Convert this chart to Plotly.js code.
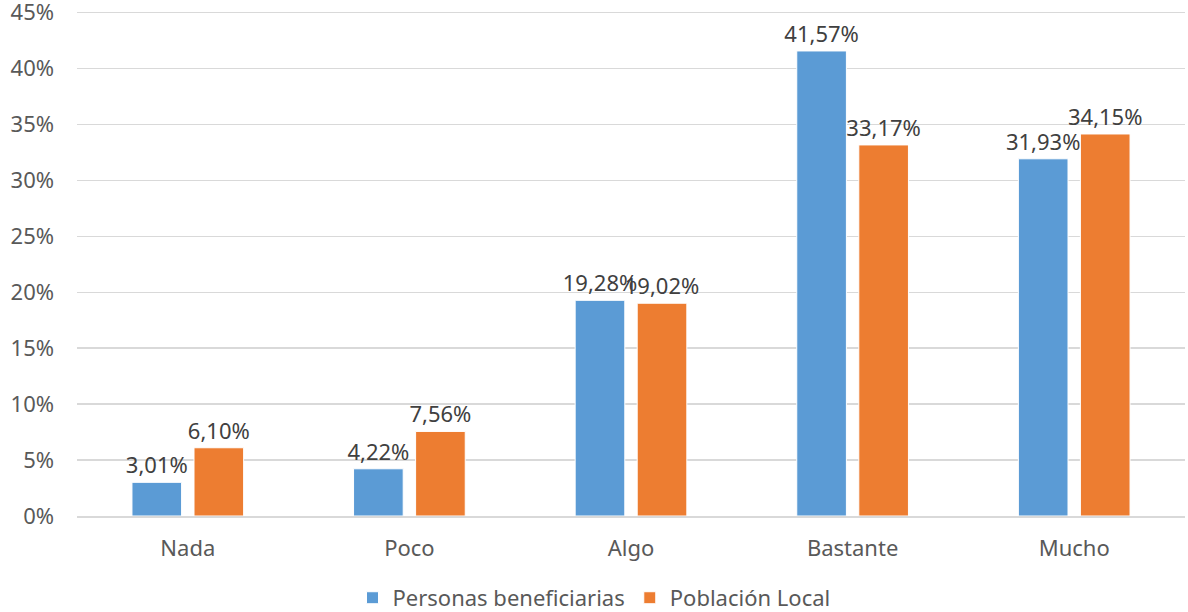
<!DOCTYPE html>
<html><head><meta charset="utf-8">
<script src="https://cdn.plot.ly/plotly-3.0.1.min.js"></script>
<style>html,body{margin:0;padding:0;background:#fff}#chart{width:1188px;height:612px}</style>
</head><body><div id="chart"></div>
<script>
const categories = ["Nada", "Poco", "Algo", "Bastante", "Mucho"];
const beneficiarias = [3.01, 4.22, 19.28, 41.57, 31.93];
const poblacionLocal = [6.10, 7.56, 19.02, 33.17, 34.15];
const seriesNames = ["Personas beneficiarias", "Población Local"];
const yTickVals = [0,5,10,15,20,25,30,35,40,45];
const yTickText = yTickVals.map(v => v + "%");

const fmt = v => v.toFixed(2).replace(".", ",") + "%";
const font = "'Noto Sans', 'Open Sans', sans-serif";
const fs = 22;

const traces = [
  {type:"bar", name:seriesNames[0], x:categories, y:beneficiarias,
   marker:{color:"#5B9BD5", line:{color:"#ffffff", width:1}},
   text:beneficiarias.map(fmt), textposition:"outside", cliponaxis:false, constraintext:"none",
   textfont:{family:font, size:fs, color:"#404040"}, hoverinfo:"skip"},
  {type:"bar", name:seriesNames[1], x:categories, y:poblacionLocal,
   marker:{color:"#ED7D31", line:{color:"#ffffff", width:1}},
   text:poblacionLocal.map(fmt), textposition:"outside", cliponaxis:false, constraintext:"none",
   textfont:{family:font, size:fs, color:"#404040"}, hoverinfo:"skip"}
];

const layout = {
  width:1188, height:612,
  margin:{l:77, r:3, t:7, b:96, autoexpand:false},
  paper_bgcolor:"#fff", plot_bgcolor:"#fff",
  font:{family:font, size:fs, color:"#595959"},
  barmode:"group", bargap:0.44, bargroupgap:0.2,
  showlegend:true,
  legend:{orientation:"h", x:0.5, xanchor:"center", xref:"container",
          y:0.023, yanchor:"middle", yref:"container",
          font:{family:font, size:fs, color:"#595959"}, itemwidth:30, traceorder:"normal"},
  xaxis:{showgrid:false, showline:true, linecolor:"#d9d9d9", linewidth:1.5, ticks:"",
         tickfont:{family:font, size:fs, color:"#595959"}, ticklabelstandoff:12},
  yaxis:{range:[0,45.5], tickmode:"array", tickvals:yTickVals, ticktext:yTickText, showgrid:true,
         gridcolor:"#d9d9d9", gridwidth:1.5, zeroline:false, showline:false, ticks:"",
         ticklabeloverflow:"allow", automargin:false,
         tickfont:{family:font, size:fs, color:"#595959"}, ticklabelstandoff:22}
};

Plotly.newPlot("chart", traces, layout, {displayModeBar:false, staticPlot:true});
</script></body></html>
